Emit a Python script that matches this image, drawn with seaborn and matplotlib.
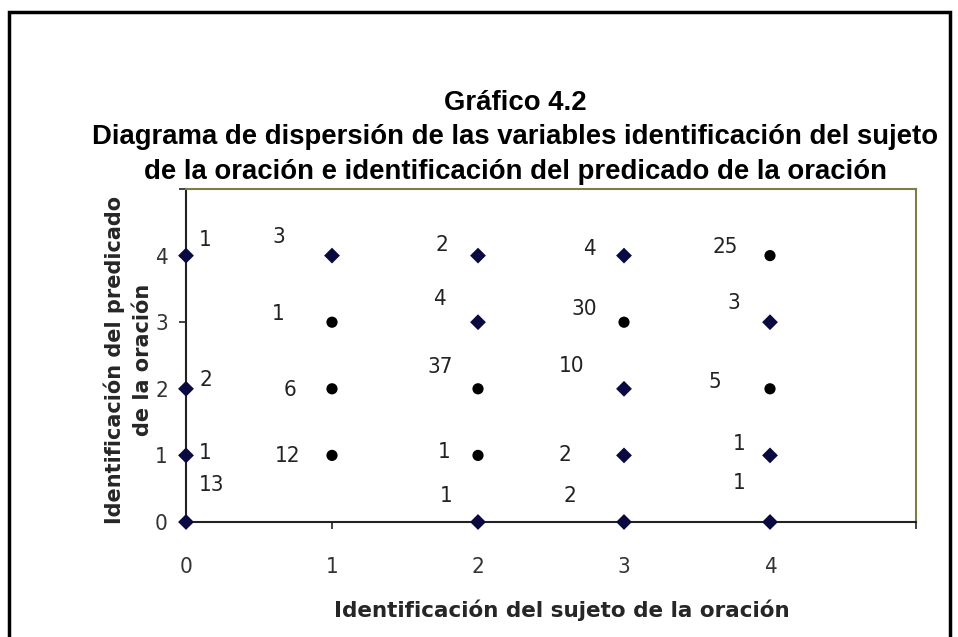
import numpy as np
import pandas as pd
import matplotlib
matplotlib.use("Agg")
import matplotlib.pyplot as plt
from matplotlib import font_manager
import seaborn as sns
from matplotlib.patches import Rectangle

# data: subject score (x), predicate score (y), frequency
sujeto = [0, 0, 0, 0,
          1, 1, 1, 1,
          2, 2, 2, 2, 2,
          3, 3, 3, 3, 3,
          4, 4, 4, 4, 4]
predicado = [4, 2, 1, 0,
             4, 3, 2, 1,
             4, 3, 2, 1, 0,
             4, 3, 2, 1, 0,
             4, 3, 2, 1, 0]
frecuencia = [1, 2, 1, 13,
              3, 1, 6, 12,
              2, 4, 37, 1, 1,
              4, 30, 10, 2, 2,
              25, 3, 5, 1, 1]
serie = ["a", "a", "a", "a",
         "a", "b", "b", "b",
         "a", "a", "b", "b", "a",
         "a", "b", "a", "a", "a",
         "b", "a", "b", "a", "a"]

x_ticks = [0, 1, 2, 3, 4, 5]
x_ticklabels = ["0", "1", "2", "3", "4", ""]
y_ticks = [0, 1, 2, 3, 4, 5]
y_ticklabels = ["0", "1", "2", "3", "4", ""]

# label offsets (pixels) from each point, as placed in the original
label_dx = [19, 20, 19, 26,
            -53, -54, -42, -44,
            -36, -39, -38, -34, -32,
            -35, -40, -52, -59, -54,
            -45, -36, -55, -31, -31]
label_dy = [16, 9, 2, 37,
            19, 8, -1, -1,
            11, 23, 22, 3, 26,
            7, 13, 23, 0, 26,
            9, 19, 7, 11, 39]

df = pd.DataFrame({"sujeto": sujeto, "predicado": predicado,
                   "frecuencia": frecuencia, "serie": serie})

sns.set_style("white")
plt.rcParams["font.family"] = ["Liberation Sans", "DejaVu Sans"]

# look for a condensed face for the numbers
condensed = [(f.name, f.stretch, f.fname.split("/")[-1]) for f in font_manager.fontManager.ttflist
             if "ond" in f.fname or "arrow" in f.fname or f.stretch != "normal"]
print(condensed)
num_font = ["Liberation Sans"]
num_stretch = "normal"
if any(n == "DejaVu Sans" and s == "condensed" for n, s, _ in condensed):
    num_font = ["DejaVu Sans"]
    num_stretch = "condensed"
print("number font:", num_font, num_stretch)

fig = plt.figure(figsize=(9.58, 6.37), dpi=100)
ax = fig.add_axes([186/958, 1 - 522/637, 730/958, (522-189)/637])

sns.scatterplot(data=df, x="sujeto", y="predicado", hue="serie", style="serie",
                palette={"a": "#0a0a40", "b": "#000000"},
                markers={"a": "D", "b": "o"},
                s=65, linewidth=0, legend=False, ax=ax, clip_on=False,
                zorder=5)

for xv, yv, n, dx, dy in zip(sujeto, predicado, frecuencia, label_dx, label_dy):
    ax.annotate(str(n), (xv, yv), xytext=(dx, dy), textcoords="offset pixels",
                ha="center", va="center", fontsize=16, color="#222222",
                family=num_font, fontstretch=num_stretch, annotation_clip=False)

ax.set_xlim(0, 5)
ax.set_ylim(0, 5)
ax.set_xticks(x_ticks)
ax.set_xticklabels(x_ticklabels)
ax.set_yticks(y_ticks)
ax.set_yticklabels(y_ticklabels)
ax.tick_params(axis="both", direction="out", length=5, width=1.2, color="#222222",
               labelsize=16, labelcolor="#333333", bottom=True, left=True)
ax.tick_params(axis="x", pad=20)
ax.tick_params(axis="y", pad=8)
for lab in ax.get_xticklabels() + ax.get_yticklabels():
    lab.set_family(num_font)
    lab.set_fontstretch(num_stretch)

for side in ["left", "bottom"]:
    ax.spines[side].set_color("#222222")
    ax.spines[side].set_linewidth(1.5)
for side in ["top", "right"]:
    ax.spines[side].set_color("#7d7d45")
    ax.spines[side].set_linewidth(1.5)

ax.set_xlabel("Identificación del sujeto de la oración", fontsize=15.5,
              fontweight="bold", family="DejaVu Sans")
ax.xaxis.set_label_coords(0.515, -0.232)
ax.set_ylabel("Identificación del predicado\nde la oración", fontsize=15,
              fontweight="bold", family="DejaVu Sans", linespacing=1.5)
ax.yaxis.set_label_coords(-0.045, 0.486)

title_lines = ["Gráfico 4.2",
               "Diagrama de dispersión de las variables identificación del sujeto",
               "de la oración e identificación del predicado de la oración"]
for i, line in enumerate(title_lines):
    fig.text(515/958, 1 - (103 + 34.5*i)/637, line, ha="center", va="center",
             fontsize=19.8, fontweight="bold", color="#000000")

fig.patches.append(Rectangle((9/958, -0.05), 941/958, 1.05 - 12/637,
                             transform=fig.transFigure, fill=False,
                             edgecolor="black", linewidth=2.5))

fig.savefig("out.png", dpi=100)
